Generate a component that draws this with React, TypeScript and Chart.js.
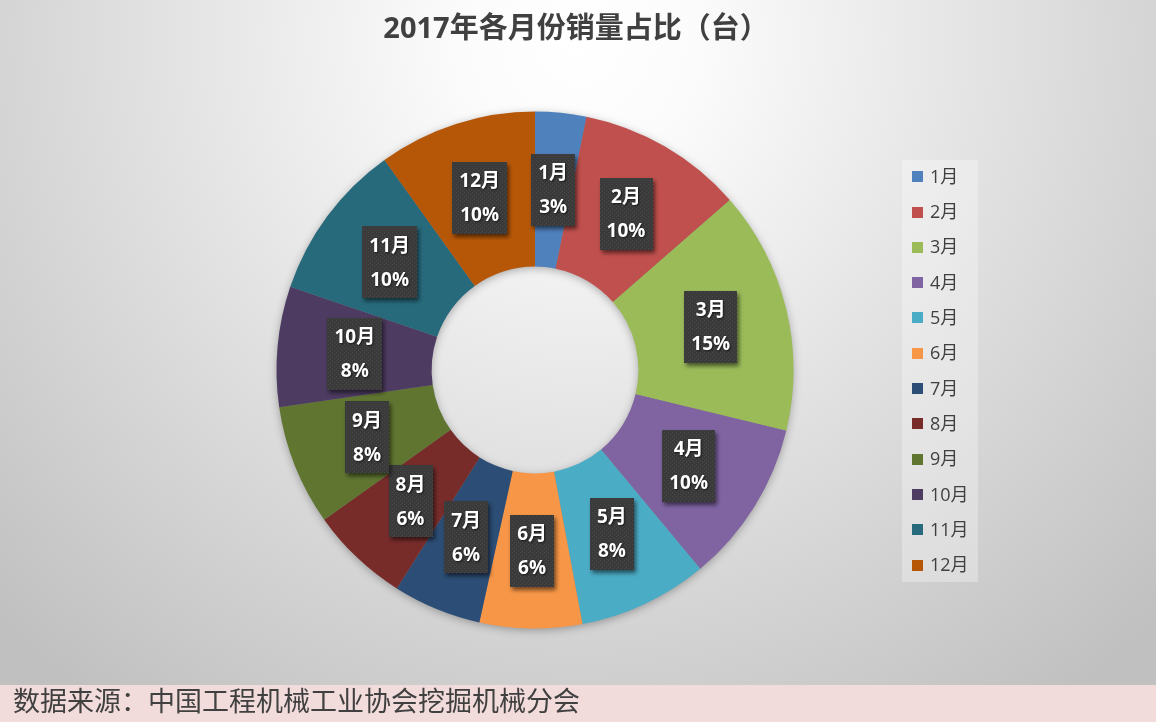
import React, { useEffect, useRef } from "react";
import { Chart, registerables } from "chart.js";

Chart.register(...registerables);

const months = ["1月", "2月", "3月", "4月", "5月", "6月", "7月", "8月", "9月", "10月", "11月", "12月"];
const sales = [4490, 14590, 21330, 14310, 11370, 8980, 7760, 8700, 10560, 10560, 13890, 13900];
const colors = [
  "#4F81BD", "#C0504D", "#9BBB59", "#8064A2", "#4BACC6", "#F79646",
  "#2C4D75", "#772C2A", "#5F7530", "#4D3B62", "#276A7C", "#B65708",
];
const titleText = "2017年各月份销量占比（台）";
const sourceText = "数据来源：中国工程机械工业协会挖掘机械分会";

const FONT = '"Open Sans", "Noto Sans CJK SC", sans-serif';

function makePattern(ctx: CanvasRenderingContext2D) {
  const c = document.createElement("canvas");
  c.width = 4;
  c.height = 4;
  const p = c.getContext("2d")!;
  p.fillStyle = "#3a3a3a";
  p.fillRect(0, 0, 4, 4);
  p.fillStyle = "#4a4a4a";
  p.fillRect(0, 0, 1, 1);
  p.fillRect(2, 2, 1, 1);
  return ctx.createPattern(c, "repeat")!;
}

const decorPlugin = {
  id: "decor",
  beforeDraw(chart: any) {
    const { ctx, width, height } = chart;
    ctx.save();
    const g = ctx.createRadialGradient(578, 40, 0, 578, 40, 820);
    g.addColorStop(0, "#ffffff");
    g.addColorStop(0.15, "#fbfbfb");
    g.addColorStop(1, "#c0c0c0");
    ctx.fillStyle = g;
    ctx.fillRect(0, 0, width, height);
    // footer band
    ctx.fillStyle = "#f2dcdb";
    ctx.fillRect(0, 685, width, height - 685);
    ctx.fillStyle = "#404040";
    ctx.font = `27px ${FONT}`;
    ctx.textAlign = "left";
    ctx.textBaseline = "middle";
    ctx.fillText(sourceText, 13, 703);
    // title
    ctx.font = `bold 29px ${FONT}`;
    ctx.textAlign = "center";
    ctx.fillStyle = "#404040";
    ctx.fillText(titleText, 576, 30);
    ctx.restore();
  },
  beforeDatasetsDraw(chart: any) {
    const meta = chart.getDatasetMeta(0);
    const a = meta.data[0];
    if (!a) return;
    const { x, y, outerRadius, innerRadius } = a.getProps(["x", "y", "outerRadius", "innerRadius"], true);
    const ctx = chart.ctx;
    ctx.save();
    ctx.beginPath();
    ctx.arc(x, y, outerRadius - 1, 0, Math.PI * 2);
    ctx.arc(x, y, innerRadius + 1, 0, Math.PI * 2, true);
    ctx.closePath();
    ctx.shadowColor = "rgba(0,0,0,0.35)";
    ctx.shadowBlur = 10;
    ctx.shadowOffsetX = 0;
    ctx.shadowOffsetY = 2;
    ctx.fillStyle = "#888888";
    ctx.fill("evenodd");
    ctx.restore();
  },
  afterDatasetsDraw(chart: any) {
    const ctx = chart.ctx as CanvasRenderingContext2D;
    const meta = chart.getDatasetMeta(0);
    const data = chart.data.datasets[0].data as number[];
    const total = data.reduce((s, v) => s + v, 0);
    const pattern = makePattern(ctx);
    meta.data.forEach((arc: any, i: number) => {
      const { x, y } = arc.getCenterPoint();
      const l1 = chart.data.labels[i] as string;
      const l2 = Math.round((data[i] / total) * 100) + "%";
      ctx.save();
      ctx.font = `bold 19px ${FONT}`;
      const w = Math.max(ctx.measureText(l1).width, ctx.measureText(l2).width) + 14;
      const h = 72;
      ctx.shadowColor = "rgba(0,0,0,0.55)";
      ctx.shadowBlur = 4;
      ctx.shadowOffsetX = 2;
      ctx.shadowOffsetY = 3;
      ctx.fillStyle = pattern;
      ctx.fillRect(Math.round(x - w / 2), Math.round(y - h / 2), Math.round(w), h);
      ctx.shadowColor = "rgba(0,0,0,0.6)";
      ctx.shadowBlur = 2;
      ctx.shadowOffsetX = 1;
      ctx.shadowOffsetY = 1;
      ctx.fillStyle = "#ffffff";
      ctx.textAlign = "center";
      ctx.textBaseline = "middle";
      ctx.fillText(l1, x, y - 16);
      ctx.fillText(l2, x, y + 18);
      ctx.restore();
    });
  },
  afterDraw(chart: any) {
    const ctx = chart.ctx as CanvasRenderingContext2D;
    ctx.save();
    ctx.fillStyle = "rgba(255,255,255,0.3)";
    ctx.fillRect(902, 160, 76, 422);
    const labels = chart.data.labels as string[];
    labels.forEach((lab, i) => {
      const cy = 176.7 + i * 35.3;
      ctx.fillStyle = colors[i];
      ctx.fillRect(912, Math.round(cy - 5.5), 11, 11);
      ctx.fillStyle = "#404040";
      ctx.font = `18px ${FONT}`;
      ctx.textAlign = "left";
      ctx.textBaseline = "middle";
      ctx.fillText(lab, 930, cy + 1);
    });
    ctx.restore();
  },
};

export default function App() {
  const ref = useRef<HTMLCanvasElement | null>(null);
  useEffect(() => {
    if (!ref.current) return;
    const chart = new Chart(ref.current, {
      type: "doughnut",
      data: {
        labels: months,
        datasets: [
          {
            data: sales,
            backgroundColor: colors,
            borderWidth: 0,
          },
        ],
      },
      options: {
        responsive: false,
        animation: false,
        cutout: "40%",
        layout: { padding: { top: 111.5, bottom: 93.5, left: 100, right: 186 } },
        plugins: {
          legend: { display: false },
          tooltip: { enabled: false },
          title: { display: false },
        },
      },
      plugins: [decorPlugin],
    } as any);
    return () => chart.destroy();
  }, []);
  return (
    <div style={{ position: "fixed", left: 0, top: 0, width: 1156, height: 722 }}>
      <canvas ref={ref} width={1156} height={722} style={{ display: "block" }} />
    </div>
  );
}
